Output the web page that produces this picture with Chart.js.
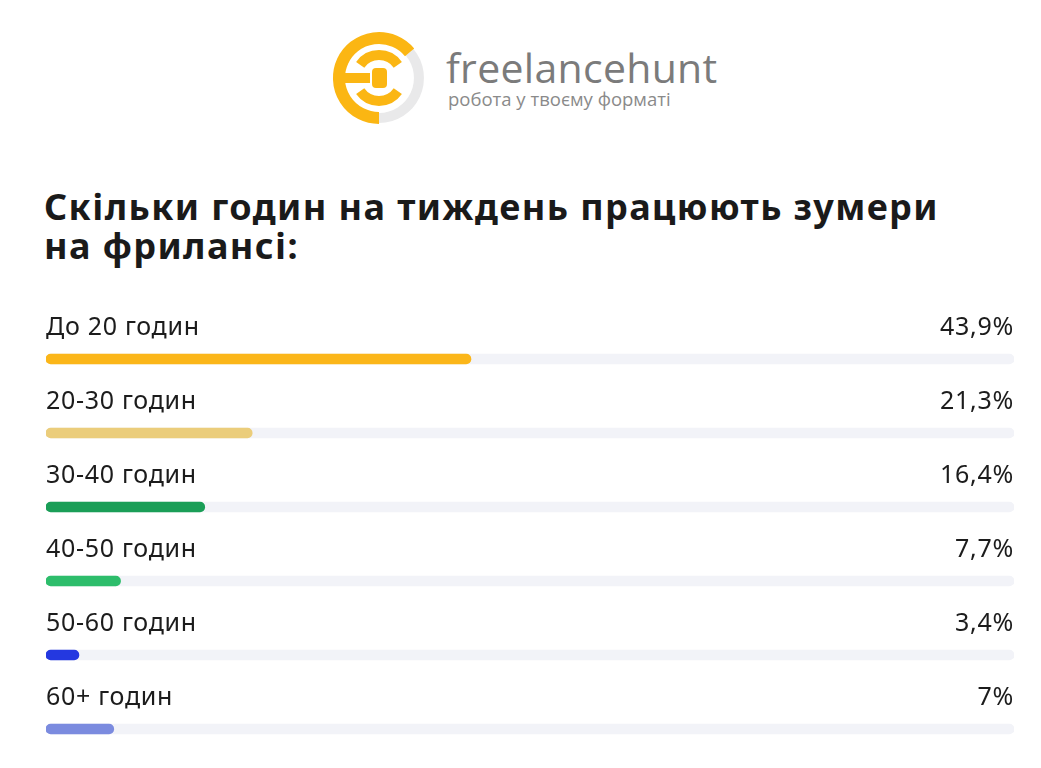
<!DOCTYPE html>
<html lang="uk">
<head>
<meta charset="utf-8">
<script src="https://cdn.jsdelivr.net/npm/chart.js@4.4.1/dist/chart.umd.min.js"></script>
<style>
  html, body { margin: 0; padding: 0; background: #fff; }
  body { width: 1041px; height: 768px; position: relative; overflow: hidden; font-family: "Noto Sans", sans-serif; }
  #logo { position: absolute; left: 329px; top: 28px; }
  #brand { position: absolute; left: 446px; top: 46px; font-family: "Open Sans", sans-serif; color: #7b7b7b; }
  #brand .name { font-size: 41px; line-height: 42px; letter-spacing: 0.3px; }
  #brand .tag { font-size: 18.5px; line-height: 22px; color: #8a8a8a; margin-left: 2px; }
  h1 { position: absolute; left: 44px; top: 187px; margin: 0; font-size: 36px; line-height: 39px; font-weight: 700; color: #1a1a1a; letter-spacing: 1.4px; white-space: nowrap; }
  #wrap { position: absolute; left: 0; top: 290px; width: 1041px; height: 478px; }
</style>
</head>
<body>
<svg id="logo" width="100" height="100" viewBox="0 0 100 100">
  <path d="M 80.6 24.3 A 40 40 0 0 1 50 90" fill="none" stroke="#e9e9ea" stroke-width="10"/>
  <path d="M 50 90 A 40 40 0 1 1 80.6 24.3" fill="none" stroke="#fbb613" stroke-width="12"/>
  <rect x="12" y="45" width="29" height="10" fill="#fbb613"/>
  <rect x="43" y="40" width="15" height="20" rx="4" fill="#fbb613"/>
  <path d="M 31.2 36.8 A 23 23 0 0 1 68.8 36.8" fill="none" stroke="#fbb613" stroke-width="10"/>
  <path d="M 31.2 63.2 A 23 23 0 0 0 68.8 63.2" fill="none" stroke="#fbb613" stroke-width="10"/>
</svg>
<div id="brand">
  <div class="name">freelancehunt</div>
  <div class="tag">робота у твоєму форматі</div>
</div>
<h1>Скільки годин на тиждень працюють зумери<br>на фрилансі:</h1>
<div id="wrap"><canvas id="chart"></canvas></div>
<script>
// дані
const categories = ["До 20 годин", "20-30 годин", "30-40 годин", "40-50 годин", "50-60 годин", "60+ годин"];
const values = [43.9, 21.3, 16.4, 7.7, 3.4, 7];
const valueLabels = ["43,9%", "21,3%", "16,4%", "7,7%", "3,4%", "7%"];
const barColors = ["#fbb619", "#ebcd7b", "#1a9e57", "#2dbd6b", "#2438e0", "#7b8bdf"];
const trackValues = categories.map(() => 100);

// підписи над смугами і відсотки праворуч
const rowText = {
  id: "rowText",
  afterDatasetsDraw(chart) {
    const ctx = chart.ctx;
    const y = chart.scales.y;
    const area = chart.chartArea;
    ctx.save();
    ctx.font = "25px 'Noto Sans', sans-serif";
    ctx.letterSpacing = "0.7px";
    ctx.fillStyle = "#1c1c1c";
    ctx.textBaseline = "middle";
    categories.forEach((c, i) => {
      const cy = y.getPixelForValue(i) - 31;
      ctx.textAlign = "left";
      ctx.fillText(c, area.left, cy);
      ctx.textAlign = "right";
      ctx.fillText(valueLabels[i], area.right, cy);
    });
    ctx.restore();
  }
};

new Chart(document.getElementById("chart"), {
  type: "bar",
  data: {
    labels: categories,
    datasets: [
      {
        data: values,
        backgroundColor: barColors,
        barThickness: 10,
        borderRadius: 5,
        borderSkipped: false,
        grouped: false,
        order: 1
      },
      {
        data: trackValues,
        backgroundColor: "#f2f3f8",
        barThickness: 10,
        borderRadius: 5,
        borderSkipped: false,
        grouped: false,
        order: 2
      }
    ]
  },
  options: {
    indexAxis: "y",
    responsive: true,
    maintainAspectRatio: false,
    animation: false,
    layout: { padding: { left: 46, right: 27, top: 32, bottom: 2 } },
    scales: {
      x: { display: false, min: 0, max: 100 },
      y: { display: false }
    },
    plugins: {
      legend: { display: false },
      tooltip: { enabled: false }
    }
  },
  plugins: [rowText]
});
</script>
</body>
</html>
